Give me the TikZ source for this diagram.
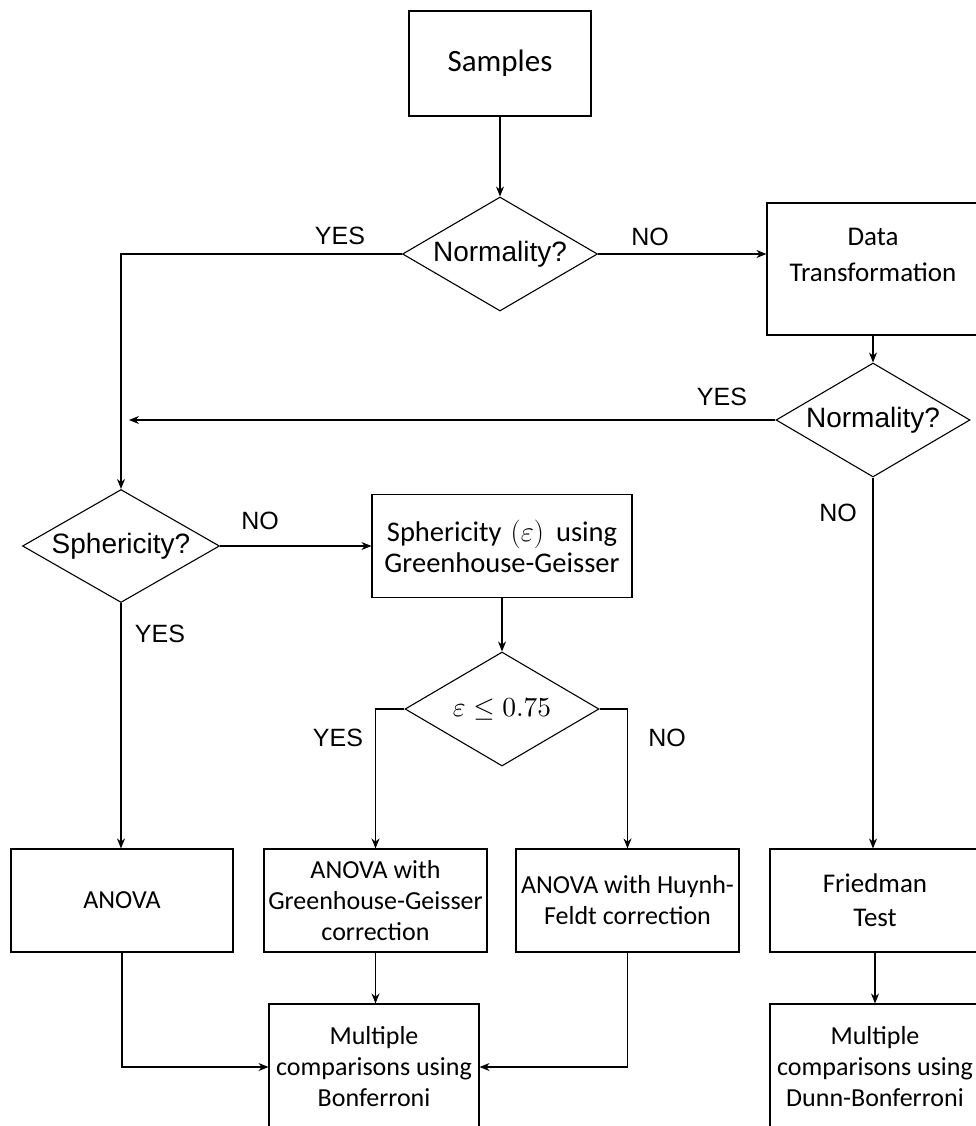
\documentclass[tikz,border=0pt]{standalone}
\usepackage{graphicx}
\usepackage{fontspec}
\setmainfont{Carlito}
\newfontfamily\arialf{Liberation Sans}
\usetikzlibrary{shapes.geometric,arrows.meta}
\begin{document}
\begin{tikzpicture}[x=1pt,y=-1pt,
  box/.style={draw, line width=1.1pt, inner sep=0pt, align=center, font=\fontsize{26}{31}\selectfont},
  txt/.style={inner sep=0pt, align=center, font=\fontsize{26}{31}\selectfont},
  dec/.style={draw, line width=1.1pt, diamond, shape aspect=1.7, inner sep=0pt, font=\arialf\fontsize{28}{32}\selectfont},
  lbl/.style={font=\arialf\fontsize{25}{30}\selectfont, inner sep=0pt},
  arr/.style={-{Stealth[length=10pt,width=8pt]}, line width=1.1pt}]
\useasboundingbox (0,0) rectangle (976,1126);
\clip (0,0) rectangle (976,1126);

% nodes
\node[box, minimum width=182pt, minimum height=105pt, font=\fontsize{31}{36}\selectfont] (samples) at (500,63.5) {Samples};
\node[dec, minimum width=195pt, minimum height=114pt] (norm1) at (500,254) {Normality?};
\node[box, minimum width=212pt, minimum height=132pt] (dt) at (873,269) {};
\node[txt, font=\fontsize{27}{36}\selectfont] (dtt) at (873,255) {Data\\Transformation};
\node[dec, minimum width=194pt, minimum height=114pt] (norm2) at (873,420) {Normality?};
\coordinate (yesend) at (129,420);
\node[dec, minimum width=197pt, minimum height=113pt] (spher) at (121,546) {Sphericity?};
\node[box, minimum width=260pt, minimum height=103pt, font=\fontsize{28.5}{31}\selectfont] (sphbox) at (502,546) {Sphericity\hspace{9pt}\scalebox{1.15}{$(\varepsilon)$}\hspace{12pt}using\\Greenhouse-Geisser};
\node[dec, minimum width=194pt, minimum height=114pt, font=\fontsize{10}{12}\selectfont] (eps) at (502,709) {\scalebox{2.75}{$\varepsilon \leq 0.75$}};
\node[box, minimum width=222pt, minimum height=103pt] (anova) at (122,900.5) {ANOVA};
\node[box, minimum width=223pt, minimum height=103pt] (gg) at (375.5,900.5) {ANOVA with\\Greenhouse-Geisser\\correction};
\node[box, minimum width=223pt, minimum height=103pt] (hf) at (627.5,900.5) {ANOVA with Huynh-\\Feldt correction};
\node[box, minimum width=210pt, minimum height=103pt, font=\fontsize{27}{34}\selectfont] (fried) at (875,900.5) {Friedman\\Test};
\node[box, minimum width=210pt, minimum height=126pt] (bonf) at (374,1067) {Multiple\\comparisons using\\Bonferroni};
\node[box, minimum width=210pt, minimum height=126pt] (dunn) at (875,1067) {Multiple\\comparisons using\\Dunn-Bonferroni};

% labels
\node[lbl] (l1) at (340,236) {YES};
\node[lbl] (l2) at (650,237) {NO};
\node[lbl] (l3) at (722,397) {YES};
\node[lbl] (l4) at (260,521) {NO};
\node[lbl] (l5) at (160,634) {YES};
\node[lbl] (l6) at (338,738) {YES};
\node[lbl] (l7) at (667,738) {NO};
\node[lbl] (l8) at (838,513) {NO};

% connectors
\draw[arr] (samples.south) -- (norm1.north);
\draw[arr] (norm1.west) -| (spher.north);
\draw[arr] (norm1.east) -- (norm1.east -| dt.west);
\draw[arr] (dt.south) -- (norm2.north);
\draw[arr] (norm2.west) -- (yesend);
\draw[arr] (spher.east) -- (spher.east -| sphbox.west);
\draw[arr] (spher.south) -- (spher.south |- anova.north);
\draw[arr] (sphbox.south) -- (eps.north);
\draw[arr] (eps.west) -| (gg.north);
\draw[arr] (eps.east) -| (hf.north);
\draw[arr] (norm2.south) -- (norm2.south |- fried.north);
\draw[arr] (anova.south) |- (bonf.west);
\draw[arr] (hf.south) |- (bonf.east);
\draw[arr] (gg.south) -- (gg.south |- bonf.north);
\draw[arr] (fried.south) -- (dunn.north);
\end{tikzpicture}
\end{document}
